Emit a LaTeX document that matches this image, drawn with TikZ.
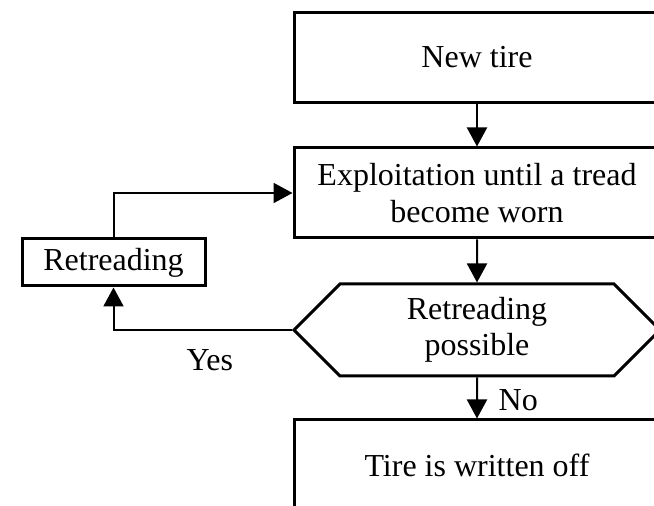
\documentclass[tikz,border=0pt]{standalone}
\usepackage{fontspec}
\setmainfont{Liberation Serif}
\usepackage{tikz}
\usetikzlibrary{arrows.meta,positioning,shapes.symbols}
\tikzset{
    >={Triangle[length=9.5pt,width=10pt]},
    line/.style={draw, line width=1pt, ->},
    font={\fontsize{16pt}{18.3pt}\selectfont},
}

\begin{document}
\begin{tikzpicture}
[
    x=0.5pt, y=-0.5pt,
    block/.style={shape=rectangle, draw, line width=1.5pt, minimum width=183pt, minimum height=45pt, align=center},
    smallblock/.style={shape=rectangle, draw, line width=1.5pt, minimum width=91.5pt, minimum height=23.5pt},
    decision/.style={shape=signal, signal to=west and east, signal pointer angle=90, draw, line width=1.5pt, minimum width=183pt, minimum height=46pt, align=center},
]
\useasboundingbox (0,0) rectangle (654,506);
\clip (0,0) rectangle (654,506);
% main column
\node (newtire) at (477,57.5) [block]{New tire};
\node (exploit) at (477,193) [block]{Exploitation until a tread\\become worn};
\node (possible) at (477,330) [decision]{Retreading\\possible};
\node (writeoff) at (477,465) [block]{Tire is written off};
% side loop
\node (retread) at (113.5,262.5) [smallblock]{Retreading};

\path[line] (newtire) -- (exploit);
\path[line] (exploit) -- (possible);
\path[line] (possible) -- node[pos=0.55, right=7pt]{No} (writeoff);
\path[line] (possible.west) -| node[pos=0.23, below=6pt]{Yes} (retread.south);
\path[line] (retread.north) |- (exploit.west);
\end{tikzpicture}
\end{document}
